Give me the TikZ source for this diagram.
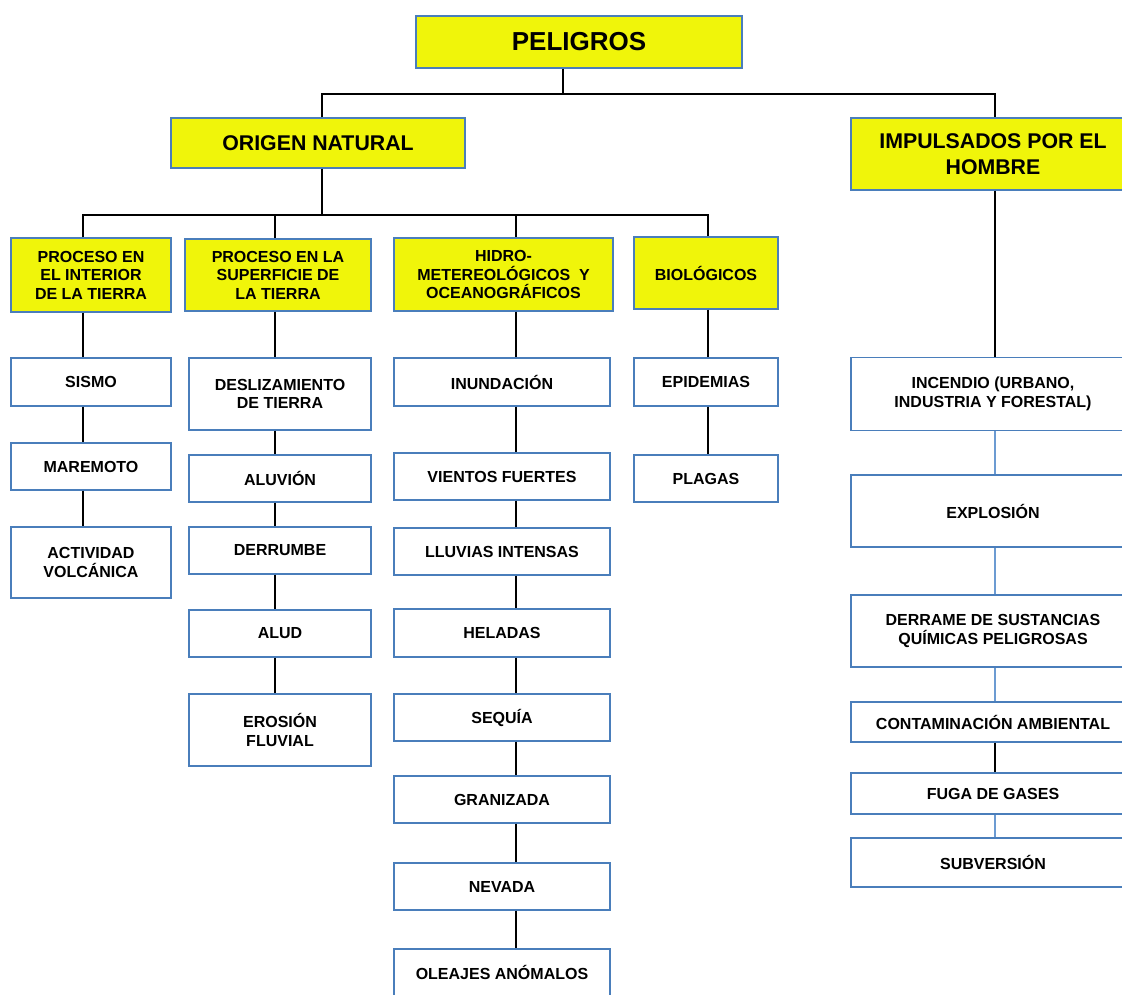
\documentclass[tikz,border=0pt]{standalone}
\usepackage{fontspec}
\setmainfont{Liberation Sans}
\usetikzlibrary{positioning}
\definecolor{hazyellow}{HTML}{F0F50A}
\definecolor{boxblue}{HTML}{4A7EBB}
\definecolor{linkblue}{HTML}{6C9BD2}

\begin{document}
\begin{tikzpicture}[
  x=1pt,y=-1pt,
  every node/.style={font=\bfseries\fontsize{16}{18.5}\selectfont,align=center},
  head/.style={rectangle,draw=boxblue,line width=1.2pt,fill=hazyellow,inner sep=2pt},
  leaf/.style={rectangle,draw=boxblue,line width=1.2pt,fill=white,inner sep=2pt},
  big/.style={font=\bfseries\fontsize{21.3}{26.5}\selectfont},
  link/.style={line width=1.6pt,draw=black},
  bluelink/.style={line width=1.6pt,draw=linkblue}
]
\useasboundingbox (0,0) rectangle (1122,994);
\clip (0,0) rectangle (1122,994);

% column axes
\coordinate (c0) at (322,0);
\coordinate (c1) at (83,0);
\coordinate (c2) at (275,0);
\coordinate (c3) at (516,0);
\coordinate (c4) at (708,0);
\coordinate (c5) at (995,0);
\coordinate (split) at (563,94);
\coordinate (bar) at (322,215);

% top levels
\node[head,minimum width=326,minimum height=52,font=\bfseries\fontsize{26}{30}\selectfont] (peligros) at (579,42) {PELIGROS};
\node[head,big,minimum width=294,minimum height=50] (origen) at (318,143) {ORIGEN NATURAL};
\node[head,big,minimum width=284,minimum height=72] (impulsados) at (993,154) {IMPULSADOS POR EL\\HOMBRE};

\node[head,minimum width=160,minimum height=74] (interior) at (91,275) {PROCESO EN\\EL INTERIOR\\DE LA TIERRA};
\node[head,minimum width=186,minimum height=72] (superficie) at (278,275) {PROCESO EN LA\\SUPERFICIE DE\\LA TIERRA};
\node[head,minimum width=219,minimum height=73] (hidro) at (503.5,274.5) {HIDRO-\\METEREOLÓGICOS~~Y\\OCEANOGRÁFICOS};
\node[head,minimum width=144,minimum height=72] (biologicos) at (706,273) {BIOLÓGICOS};

% interior de la tierra
\node[leaf,minimum width=160,minimum height=48] (sismo) at (91,382) {SISMO};
\node[leaf,minimum width=160,minimum height=47] (maremoto) at (91,466.5) {MAREMOTO};
\node[leaf,minimum width=160,minimum height=71] (actividad) at (91,562.5) {ACTIVIDAD\\VOLCÁNICA};

% superficie de la tierra
\node[leaf,minimum width=182,minimum height=72] (deslizamiento) at (280,394) {DESLIZAMIENTO\\DE TIERRA};
\node[leaf,minimum width=182,minimum height=47] (aluvion) at (280,478.5) {ALUVIÓN};
\node[leaf,minimum width=182,minimum height=47] (derrumbe) at (280,550.5) {DERRUMBE};
\node[leaf,minimum width=182,minimum height=47] (alud) at (280,633.5) {ALUD};
\node[leaf,minimum width=182,minimum height=72] (erosion) at (280,730) {EROSIÓN\\FLUVIAL};

% hidrometeorologicos
\node[leaf,minimum width=216,minimum height=48] (inundacion) at (502,382) {INUNDACIÓN};
\node[leaf,minimum width=216,minimum height=47] (vientos) at (502,476.5) {VIENTOS FUERTES};
\node[leaf,minimum width=216,minimum height=47] (lluvias) at (502,551.5) {LLUVIAS INTENSAS};
\node[leaf,minimum width=216,minimum height=48] (heladas) at (502,633) {HELADAS};
\node[leaf,minimum width=216,minimum height=47] (sequia) at (502,717.5) {SEQUÍA};
\node[leaf,minimum width=216,minimum height=47] (granizada) at (502,799.5) {GRANIZADA};
\node[leaf,minimum width=216,minimum height=47] (nevada) at (502,886.5) {NEVADA};
\node[leaf,minimum width=216,minimum height=47] (oleajes) at (502,972.5) {OLEAJES ANÓMALOS};

% biologicos
\node[leaf,minimum width=144,minimum height=48] (epidemias) at (706,382) {EPIDEMIAS};
\node[leaf,minimum width=144,minimum height=47] (plagas) at (706,478.5) {PLAGAS};

% impulsados por el hombre
\node[leaf,minimum width=284,minimum height=73] (incendio) at (993,394) {INCENDIO (URBANO,\\INDUSTRIA Y FORESTAL)};
\node[leaf,minimum width=284,minimum height=72] (explosion) at (993,511) {EXPLOSIÓN};
\node[leaf,minimum width=284,minimum height=72] (derrame) at (993,631) {DERRAME DE SUSTANCIAS\\QUÍMICAS PELIGROSAS};
\node[leaf,minimum width=284,minimum height=40] (contaminacion) at (993,722) {CONTAMINACIÓN AMBIENTAL};
\node[leaf,minimum width=284,minimum height=41] (fuga) at (993,793.5) {FUGA DE GASES};
\node[leaf,minimum width=284,minimum height=49] (subversion) at (993,862.5) {SUBVERSIÓN};

% connectors
\draw[link] (split |- peligros.south) -- (split);
\draw[link] (c0 |- origen.north) |- (split) -| (c5 |- impulsados.north);
\draw[link] (c0 |- origen.south) -- (bar);
\draw[link] (c1 |- interior.north) |- (bar) -| (c4 |- biologicos.north);
\draw[link] (c2 |- bar) -- (c2 |- superficie.north);
\draw[link] (c3 |- bar) -- (c3 |- hidro.north);

\foreach \a/\b in {interior/sismo,sismo/maremoto,maremoto/actividad}
  \draw[link] (c1 |- \a.south) -- (c1 |- \b.north);
\foreach \a/\b in {superficie/deslizamiento,deslizamiento/aluvion,aluvion/derrumbe,derrumbe/alud,alud/erosion}
  \draw[link] (c2 |- \a.south) -- (c2 |- \b.north);
\foreach \a/\b in {hidro/inundacion,inundacion/vientos,vientos/lluvias,lluvias/heladas,heladas/sequia,sequia/granizada,granizada/nevada,nevada/oleajes}
  \draw[link] (c3 |- \a.south) -- (c3 |- \b.north);
\foreach \a/\b in {biologicos/epidemias,epidemias/plagas}
  \draw[link] (c4 |- \a.south) -- (c4 |- \b.north);

\draw[link] (c5 |- impulsados.south) -- (c5 |- incendio.north);
\foreach \a/\b in {incendio/explosion,explosion/derrame,derrame/contaminacion,fuga/subversion}
  \draw[bluelink] (c5 |- \a.south) -- (c5 |- \b.north);
\draw[link] (c5 |- contaminacion.south) -- (c5 |- fuga.north);
\end{tikzpicture}
\end{document}
